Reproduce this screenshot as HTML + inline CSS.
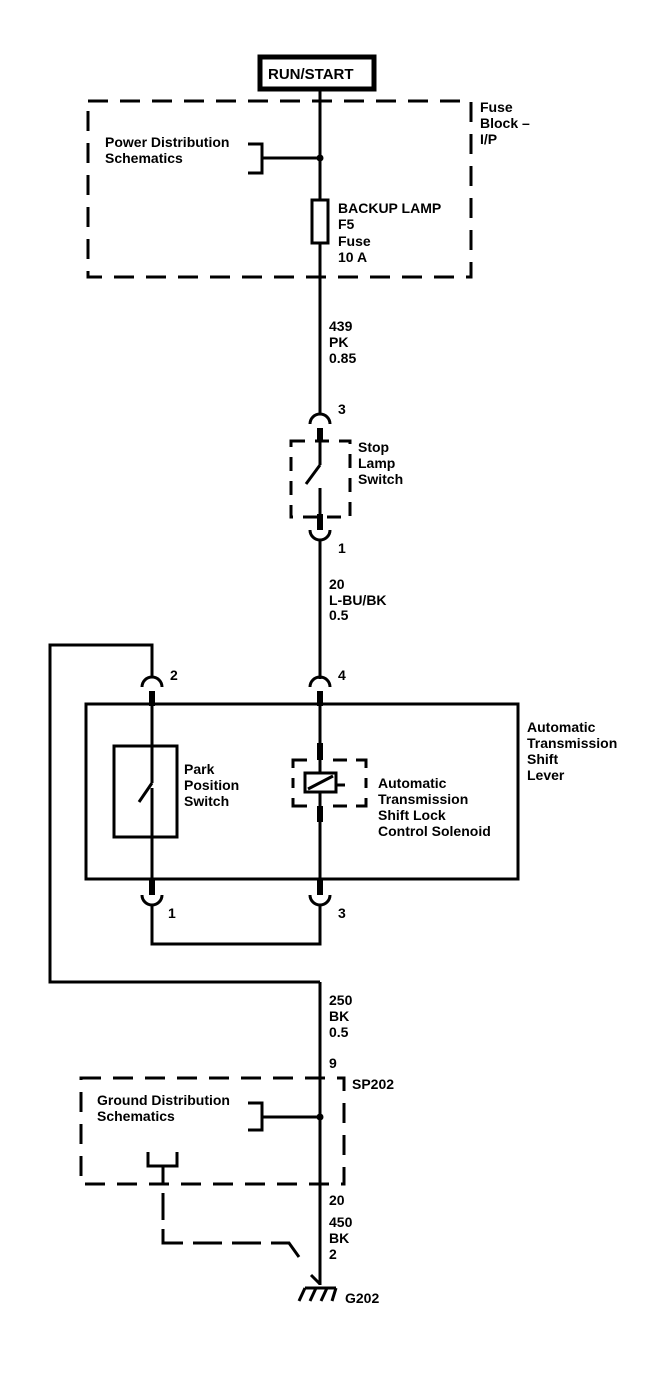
<!DOCTYPE html>
<html><head><style>
html,body{margin:0;padding:0;background:#fff}
svg{display:block}
text{font-family:"Liberation Sans",Arial,sans-serif;font-size:14px;font-weight:bold;fill:#000}
</style></head><body>
<svg width="668" height="1376" viewBox="0 0 668 1376" xmlns="http://www.w3.org/2000/svg">
<g fill="none" stroke="#000" stroke-width="3">
<rect x="260" y="57" width="114" height="32" stroke-width="5"/>
<rect x="88" y="101" width="383" height="176" stroke-dasharray="20,12"/>
<line x1="320" y1="89" x2="320" y2="413"/>
<path d="M248 144 H262 V173 H248"/>
<line x1="262" y1="158" x2="320" y2="158"/>
<rect x="312" y="200" width="16" height="43" fill="#fff"/>
<path d="M310 424 A10 10 0 0 1 330 424"/>
<line x1="320" y1="428" x2="320" y2="442" stroke-width="6"/>
<rect x="291" y="441" width="59" height="76" stroke-dasharray="14,10"/>
<line x1="320" y1="440" x2="320" y2="465"/>
<line x1="320" y1="465" x2="306" y2="484"/>
<line x1="320" y1="488" x2="320" y2="516"/>
<line x1="320" y1="514" x2="320" y2="530" stroke-width="6"/>
<path d="M310 530 A10 10 0 0 0 330 530"/>
<line x1="320" y1="540" x2="320" y2="679"/>
<path d="M142 687 A10 10 0 0 1 162 687"/>
<path d="M310 687 A10 10 0 0 1 330 687"/>
<line x1="152" y1="691" x2="152" y2="706" stroke-width="6"/>
<line x1="320" y1="691" x2="320" y2="706" stroke-width="6"/>
<path d="M152 677 V645 H50 V982 H320"/>
<rect x="86" y="704" width="432" height="175"/>
<rect x="114" y="746" width="63" height="91"/>
<line x1="152" y1="704" x2="152" y2="783"/>
<line x1="152" y1="783" x2="139" y2="802"/>
<line x1="152" y1="788" x2="152" y2="880"/>
<line x1="320" y1="704" x2="320" y2="745"/>
<line x1="320" y1="743" x2="320" y2="760" stroke-width="6"/>
<path d="M293 768 V760 H307 M333 760 H347 M356 760 H366 V768 M293 778 V788 M366 778 V788 M293 798 V806 H307 M333 806 H347 M356 806 H366 V798"/>
<rect x="305" y="773" width="31" height="19" fill="#fff"/>
<line x1="308" y1="789" x2="333" y2="776"/>
<line x1="336" y1="785" x2="345" y2="785"/>
<line x1="320" y1="760" x2="320" y2="773"/>
<line x1="320" y1="792" x2="320" y2="806"/>
<line x1="320" y1="806" x2="320" y2="822" stroke-width="6"/>
<line x1="320" y1="820" x2="320" y2="880"/>
<line x1="152" y1="879" x2="152" y2="895" stroke-width="6"/>
<line x1="320" y1="879" x2="320" y2="895" stroke-width="6"/>
<path d="M142 895 A10 10 0 0 0 162 895"/>
<path d="M310 895 A10 10 0 0 0 330 895"/>
<path d="M152 905 V944 H320 V905"/>
<line x1="320" y1="982" x2="320" y2="1285"/>
<rect x="81" y="1078" width="263" height="106" stroke-dasharray="20,12"/>
<path d="M248 1103 H262 V1130 H248"/>
<line x1="262" y1="1117" x2="320" y2="1117"/>
<path d="M148 1152 V1166 H177 V1152"/>
<line x1="163" y1="1166" x2="163" y2="1183"/>
<line x1="163" y1="1193" x2="163" y2="1220"/>
<path d="M163 1229 V1243 H183"/>
<line x1="193" y1="1243" x2="222" y2="1243"/>
<line x1="232" y1="1243" x2="261" y2="1243"/>
<path d="M271 1243 H289 L299 1257"/>
<line x1="311" y1="1275" x2="320" y2="1284"/>
<line x1="305" y1="1288" x2="336" y2="1288"/>
<line x1="305" y1="1288" x2="299" y2="1301"/>
<line x1="316" y1="1288" x2="310" y2="1301"/>
<line x1="327" y1="1288" x2="321" y2="1301"/>
<line x1="336" y1="1288" x2="332" y2="1301"/>
</g>
<circle cx="320" cy="158" r="3.5"/>
<circle cx="320" cy="1117" r="3.5"/>
<text x="268" y="79" style="font-size:15px">RUN/START</text>
<text x="480" y="112">Fuse</text>
<text x="480" y="128">Block –</text>
<text x="480" y="144">I/P</text>
<text x="105" y="147">Power Distribution</text>
<text x="105" y="163">Schematics</text>
<text x="338" y="213">BACKUP LAMP</text>
<text x="338" y="229">F5</text>
<text x="338" y="246">Fuse</text>
<text x="338" y="262">10 A</text>
<text x="329" y="331">439</text>
<text x="329" y="347">PK</text>
<text x="329" y="363">0.85</text>
<text x="338" y="414">3</text>
<text x="358" y="452">Stop</text>
<text x="358" y="468">Lamp</text>
<text x="358" y="484">Switch</text>
<text x="338" y="553">1</text>
<text x="329" y="589">20</text>
<text x="329" y="605">L-BU/BK</text>
<text x="329" y="620">0.5</text>
<text x="170" y="680">2</text>
<text x="338" y="680">4</text>
<text x="527" y="732">Automatic</text>
<text x="527" y="748">Transmission</text>
<text x="527" y="764">Shift</text>
<text x="527" y="780">Lever</text>
<text x="184" y="774">Park</text>
<text x="184" y="790">Position</text>
<text x="184" y="806">Switch</text>
<text x="378" y="788">Automatic</text>
<text x="378" y="804">Transmission</text>
<text x="378" y="820">Shift Lock</text>
<text x="378" y="836">Control Solenoid</text>
<text x="168" y="918">1</text>
<text x="338" y="918">3</text>
<text x="329" y="1005">250</text>
<text x="329" y="1021">BK</text>
<text x="329" y="1037">0.5</text>
<text x="329" y="1068">9</text>
<text x="352" y="1089">SP202</text>
<text x="97" y="1105">Ground Distribution</text>
<text x="97" y="1121">Schematics</text>
<text x="329" y="1205">20</text>
<text x="329" y="1227">450</text>
<text x="329" y="1243">BK</text>
<text x="329" y="1259">2</text>
<text x="345" y="1303">G202</text>
</svg>
</body></html>
